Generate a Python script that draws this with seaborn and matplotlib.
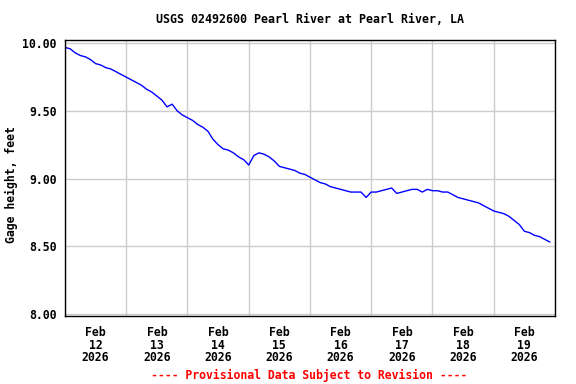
import pandas as pd
import matplotlib.pyplot as plt
import matplotlib.dates as mdates
import seaborn as sns

# Gage height readings, every 2 hours from Feb 12 2026 00:00
start = "2026-02-12 00:00"
gage_height = [
    9.97, 9.96, 9.93, 9.91, 9.90, 9.88, 9.85, 9.84, 9.82, 9.81, 9.79, 9.77,
    9.75, 9.73, 9.71, 9.69, 9.66, 9.64, 9.61, 9.58, 9.53, 9.55, 9.50, 9.47,
    9.45, 9.43, 9.40, 9.38, 9.35, 9.29, 9.25, 9.22, 9.21, 9.19, 9.16, 9.14,
    9.10, 9.17, 9.19, 9.18, 9.16, 9.13, 9.09, 9.08, 9.07, 9.06, 9.04, 9.03,
    9.01, 8.99, 8.97, 8.96, 8.94, 8.93, 8.92, 8.91, 8.90, 8.90, 8.90, 8.86,
    8.90, 8.90, 8.91, 8.92, 8.93, 8.89, 8.90, 8.91, 8.92, 8.92, 8.90, 8.92,
    8.91, 8.91, 8.90, 8.90, 8.88, 8.86, 8.85, 8.84, 8.83, 8.82, 8.80, 8.78,
    8.76, 8.75, 8.74, 8.72, 8.69, 8.66, 8.61, 8.60, 8.58, 8.57, 8.55, 8.53,
]
y_ticks = [8.0, 8.5, 9.0, 9.5, 10.0]
title = "USGS 02492600 Pearl River at Pearl River, LA"
footer = "---- Provisional Data Subject to Revision ----"

df = pd.DataFrame({
    "time": pd.date_range(start, periods=len(gage_height), freq="2h"),
    "height": gage_height,
})

sns.set_style("white")
plt.rcParams['font.family'] = ['DejaVu Sans Mono']
plt.rcParams['text.color'] = 'black'
plt.rcParams['xtick.color'] = 'black'
plt.rcParams['ytick.color'] = 'black'
plt.rcParams['axes.labelcolor'] = 'black'

fig = plt.figure(figsize=(5.76, 3.84), dpi=100)
ax = fig.add_axes([0.1128, 0.177, 0.8507, 0.72])

sns.lineplot(data=df, x="time", y="height", color="#0000ff", linewidth=1.0, ax=ax)

ax.set_xlim(pd.Timestamp("2026-02-12"), pd.Timestamp("2026-02-20"))
ax.set_ylim(7.983, 10.028)
ax.set_yticks(y_ticks)
ax.set_yticklabels([f"{v:.2f}" for v in y_ticks], fontsize=8.3, fontweight="bold")

# gridlines at midnight, labels at noon
ax.xaxis.set_major_locator(mdates.DayLocator())
ax.xaxis.set_major_formatter(plt.NullFormatter())
ax.xaxis.set_minor_locator(mdates.HourLocator(byhour=[12]))
ax.xaxis.set_minor_formatter(mdates.DateFormatter("%b\n%d\n%Y"))
ax.tick_params(axis="x", which="both", length=0, pad=7)
ax.tick_params(axis="y", length=0, pad=6)
for lbl in ax.get_xticklabels(minor=True):
    lbl.set_fontsize(8.3)
    lbl.set_fontweight("bold")
    lbl.set_linespacing(0.98)

ax.grid(True, which="major", color="#cccccc", linewidth=1)
for s in ax.spines.values():
    s.set_color("black")
    s.set_linewidth(1)

ax.set_xlabel("")
ax.set_ylabel("")
fig.text(11 / 576, 0.52, "Gage height, feet", fontsize=8.3, fontweight="bold",
         rotation=90, ha="center", va="center")
fig.text(0.538, 0.948, title, fontsize=8.4, fontweight="bold",
         ha="center", va="center")
fig.text(0.536, 0.023, footer, color="red", fontsize=8.3, fontweight="bold",
         ha="center", va="center")

plt.savefig("out.png", dpi=100)
